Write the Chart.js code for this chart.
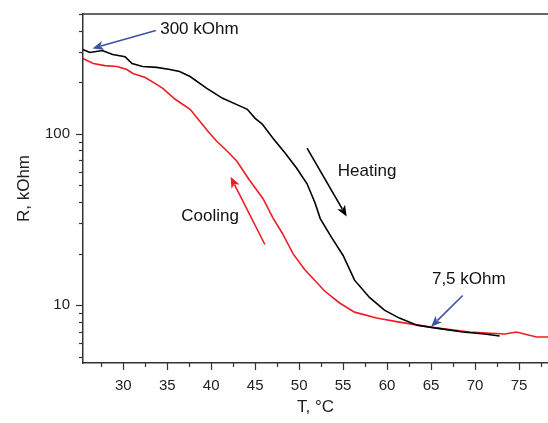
<!DOCTYPE html>
<html>
<head>
<meta charset="utf-8">
<script src="https://cdn.jsdelivr.net/npm/chart.js@4.4.0/dist/chart.umd.min.js"></script>
<style>
  html, body { margin: 0; padding: 0; background: #fff; }
</style>
</head>
<body>
<canvas id="chart" width="548" height="423"></canvas>
<script>
// heating curve (black)
const heatT = [25.4, 26.2, 27.6, 28.8, 30.2, 31.0, 32.2, 33.8, 35.3, 36.4, 37.6, 39.5, 41.3, 43.3, 44.1, 45.0, 45.8, 47.0, 48.4, 49.7, 50.9, 51.8, 52.4, 53.7, 55.0, 56.3, 58.0, 59.7, 61.4, 63.4, 65.6, 68.6, 71.1, 72.8];
const heatR = [310, 298, 306, 290, 282, 257, 247, 244, 237, 231, 216, 184, 161, 145, 139, 123, 114, 94.4, 77.2, 63.2, 51.1, 39.6, 32.0, 24.8, 19.5, 14.0, 11.1, 9.35, 8.41, 7.65, 7.35, 6.97, 6.79, 6.61];

// cooling curve (red)
const coolT = [25.4, 26.6, 27.9, 29.3, 30.4, 31.1, 32.5, 33.6, 34.5, 35.9, 37.6, 38.7, 39.6, 40.6, 41.8, 42.9, 44.4, 45.9, 47.0, 48.1, 49.3, 50.6, 52.9, 54.6, 56.3, 58.8, 61.4, 64.9, 69.4, 71.3, 73.4, 74.7, 75.6, 77.0, 78.3];
const coolR = [275, 257, 250, 247, 237, 225, 213, 197, 184, 159, 139, 118.5, 103.7, 90.7, 79.4, 69.4, 53.2, 41.8, 32.4, 26.2, 20.0, 16.2, 12.1, 10.3, 9.11, 8.41, 7.97, 7.45, 6.97, 6.88, 6.79, 6.97, 6.79, 6.52, 6.52];

const xTickLabels = [30, 35, 40, 45, 50, 55, 60, 65, 70, 75];
const yTickLabels = [10, 100];

// notes: [text, T, R] and arrows: [T from, R from, T to, R to]
const notes = [
  ["300 kOhm", 34.2, 406],
  ["Heating", 54.4, 60.7],
  ["Cooling", 36.6, 33.0],
  ["7,5 kOhm", 65.1, 14.2]
];
const arrows = [
  [33.7, 401, 26.5, 315, "#3f51a3"],
  [50.9, 82.6, 55.4, 32.9, "#000"],
  [46.1, 22.6, 42.2, 56.1, "#ee1c24"],
  [68.6, 11.4, 65.0, 7.48, "#3f51a3"]
];

const font = "'Liberation Sans', Arial, sans-serif";
const axisColor = "#333";

function toPoints(xs, ys) {
  return xs.map((x, i) => ({ x, y: ys[i] }));
}

function drawArrow(ctx, x1, y1, x2, y2, color) {
  const ang = Math.atan2(y2 - y1, x2 - x1);
  const len = 11, half = 4.5;
  ctx.save();
  ctx.strokeStyle = color;
  ctx.fillStyle = color;
  ctx.lineWidth = 1.6;
  ctx.beginPath();
  ctx.moveTo(x1, y1);
  ctx.lineTo(x2 - Math.cos(ang) * len * 0.8, y2 - Math.sin(ang) * len * 0.8);
  ctx.stroke();
  ctx.beginPath();
  ctx.moveTo(x2, y2);
  ctx.lineTo(x2 - Math.cos(ang) * len + Math.sin(ang) * half, y2 - Math.sin(ang) * len - Math.cos(ang) * half);
  ctx.lineTo(x2 - Math.cos(ang) * len * 0.75, y2 - Math.sin(ang) * len * 0.75);
  ctx.lineTo(x2 - Math.cos(ang) * len - Math.sin(ang) * half, y2 - Math.sin(ang) * len + Math.cos(ang) * half);
  ctx.closePath();
  ctx.fill();
  ctx.restore();
}

const framePlugin = {
  id: "frame",
  afterDraw(chart) {
    const { ctx, chartArea: a, scales: { x, y } } = chart;
    ctx.save();
    ctx.strokeStyle = axisColor;
    ctx.lineWidth = 1.5;
    ctx.beginPath();
    ctx.moveTo(a.left, a.top);
    ctx.lineTo(a.right, a.top);
    ctx.stroke();

    ctx.lineWidth = 1.2;
    // x ticks, major every 5 and minor in between
    for (let v = 27.5; v <= x.max; v += 2.5) {
      const px = Math.round(x.getPixelForValue(v)) + 0.5;
      const major = v % 5 === 0;
      ctx.beginPath();
      ctx.moveTo(px, a.bottom);
      ctx.lineTo(px, a.bottom + (major ? 7 : 4));
      ctx.stroke();
    }
    // y ticks on the log axis
    for (let dec = 1; dec <= 100; dec *= 10) {
      for (let m = 1; m <= 9; m++) {
        const v = m * dec;
        if (v < y.min || v > y.max) continue;
        const py = Math.round(y.getPixelForValue(v)) + 0.5;
        ctx.beginPath();
        ctx.moveTo(a.left, py);
        ctx.lineTo(a.left - (m === 1 ? 7 : 4), py);
        ctx.stroke();
      }
    }

    arrows.forEach(([t1, r1, t2, r2, c]) => {
      drawArrow(ctx, x.getPixelForValue(t1), y.getPixelForValue(r1),
        x.getPixelForValue(t2), y.getPixelForValue(r2), c);
    });

    ctx.fillStyle = "#111";
    ctx.font = "17px " + font;
    ctx.textAlign = "left";
    ctx.textBaseline = "middle";
    notes.forEach(([txt, t, r]) => {
      ctx.fillText(txt, x.getPixelForValue(t), y.getPixelForValue(r));
    });
    ctx.restore();
  }
};

new Chart(document.getElementById("chart"), {
  type: "line",
  data: {
    datasets: [
      {
        label: "Heating",
        data: toPoints(heatT, heatR),
        borderColor: "#000",
        borderWidth: 1.6,
        pointRadius: 0,
        tension: 0,
      },
      {
        label: "Cooling",
        data: toPoints(coolT, coolR),
        borderColor: "#ee1c24",
        borderWidth: 1.6,
        pointRadius: 0,
        tension: 0,
      },
    ],
  },
  options: {
    responsive: false,
    animation: false,
    layout: { padding: { top: 2, right: 0, left: 0, bottom: 0 } },
    plugins: {
      legend: { display: false },
      tooltip: { enabled: false },
    },
    scales: {
      x: {
        type: "linear",
        min: 25.42,
        max: 78.3,
        grid: { display: false },
        border: { display: true, color: axisColor, width: 1.5 },
        ticks: {
          stepSize: 5,
          includeBounds: false,
          padding: 6,
          color: "#222",
          font: { family: font, size: 15 },
          callback: (v) => (xTickLabels.includes(v) ? String(v) : null),
        },
        title: {
          display: true,
          text: "T, °C",
          color: "#222",
          font: { family: font, size: 17 },
          padding: { top: 0, bottom: 5 },
        },
        afterFit: (scale) => { scale.height = 60; },
      },
      y: {
        type: "logarithmic",
        min: 4.6,
        max: 500,
        grid: { display: false },
        border: { display: true, color: axisColor, width: 1.5 },
        ticks: {
          autoSkip: false,
          padding: 5,
          color: "#222",
          font: { family: font, size: 15 },
          callback: (v) => (yTickLabels.includes(v) ? String(v) : null),
        },
        title: {
          display: true,
          text: "R, kOhm",
          color: "#222",
          font: { family: font, size: 17 },
          padding: { top: 14, bottom: 0 },
        },
        afterFit: (scale) => { scale.width = 83; },
      },
    },
  },
  plugins: [framePlugin],
});
</script>
</body>
</html>
